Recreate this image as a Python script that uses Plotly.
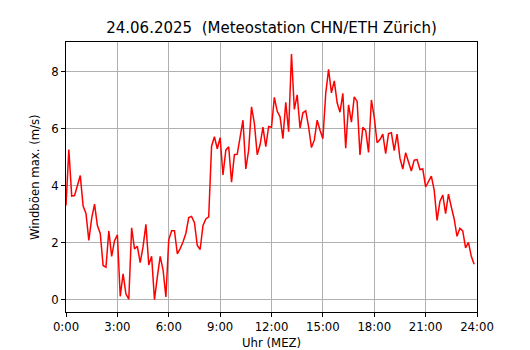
import plotly.graph_objects as go

title_text = "24.06.2025  (Meteostation CHN/ETH Zürich)"
x_label = "Uhr (MEZ)"
y_label = "Windböen max. (m/s)"

# 10-minute values, 0:00 .. 23:50
gust = [
    3.3, 5.26, 3.63, 3.65, 4.0, 4.35, 3.28, 3.02, 2.08, 2.86,
    3.35, 2.6, 2.32, 1.2, 1.14, 2.41, 1.52, 2.07, 2.27, 0.12,
    0.91, 0.2, 0.02, 2.52, 1.78, 1.87, 1.3, 1.86, 2.64, 1.22,
    1.52, 0.0, 0.8, 1.52, 1.05, 0.1, 2.1, 2.42, 2.42, 1.61,
    1.79, 2.02, 2.33, 2.88, 2.92, 2.7, 1.9, 1.76, 2.6, 2.83,
    2.9, 5.38, 5.71, 5.29, 5.68, 4.37, 5.24, 5.36, 4.12, 5.08,
    5.1, 5.64, 6.29, 4.58, 5.24, 6.76, 6.18, 5.08, 5.43, 6.05,
    5.36, 6.07, 6.04, 7.09, 6.6, 6.41, 5.64, 6.92, 5.89, 8.61,
    6.67, 7.18, 6.01, 6.55, 6.62, 6.06, 5.33, 5.59, 6.29, 5.94,
    5.64, 7.23, 8.07, 7.25, 7.67, 6.9, 6.57, 7.23, 5.31, 6.83,
    6.22, 7.11, 6.95, 5.07, 6.04, 5.93, 5.16, 7.0, 6.39, 5.5,
    5.61, 5.8, 5.12, 5.82, 5.85, 5.22, 5.8, 4.96, 4.58, 5.15,
    4.82, 4.51, 4.89, 4.91, 4.56, 4.58, 3.95, 4.12, 4.33, 3.84,
    2.78, 3.44, 3.67, 3.02, 3.7, 3.25, 2.83, 2.22, 2.5, 2.41,
    1.82, 2.01, 1.52, 1.24,
]
hours = [i / 6.0 for i in range(len(gust))]

x_tickvals = [0, 3, 6, 9, 12, 15, 18, 21, 24]
x_ticktext = ["0:00", "3:00", "6:00", "9:00", "12:00", "15:00", "18:00", "21:00", "24:00"]
y_tickvals = [0, 2, 4, 6, 8]

FONT = "DejaVu Sans"

fig = go.Figure()
fig.add_trace(go.Scatter(
    x=hours, y=gust, mode="lines",
    line=dict(color="#ff0000", width=1.5),
    showlegend=False, hoverinfo="skip",
))

axis_common = dict(
    showline=True, linecolor="black", linewidth=1, mirror=True,
    ticks="outside", ticklen=4, tickwidth=1, tickcolor="black",
    showgrid=True, gridcolor="#b0b0b0", gridwidth=1,
    zeroline=False, automargin=False,
    tickfont=dict(family=FONT, size=11.7, color="black"),
)

# page body has an 8px margin, so the figure is 522x342 and offset by 8px
fig.update_layout(
    width=522, height=342,
    paper_bgcolor="white", plot_bgcolor="white",
    margin=dict(l=58, r=53, t=34, b=38),
    font=dict(family=FONT, color="black"),
    title=dict(
        text=title_text, x=0.5, xref="paper", xanchor="center",
        y=1 - 20 / 342, yref="container", yanchor="middle",
        font=dict(family=FONT, size=15, color="black"),
    ),
    xaxis=dict(range=[0, 24], tickvals=x_tickvals, ticktext=x_ticktext, **axis_common),
    yaxis=dict(range=[-0.43, 9.03], tickvals=y_tickvals, **axis_common),
    annotations=[
        dict(text=x_label, xref="paper", yref="paper", x=0.5, y=0,
             xanchor="center", yanchor="middle", yshift=-31, showarrow=False,
             font=dict(family=FONT, size=11.7, color="black")),
        dict(text=y_label, xref="paper", yref="paper", x=0, y=0.5,
             xanchor="center", yanchor="middle", xshift=-31, textangle=-90,
             showarrow=False, font=dict(family=FONT, size=11.7, color="black")),
    ],
)

fig.write_html("out.html")
